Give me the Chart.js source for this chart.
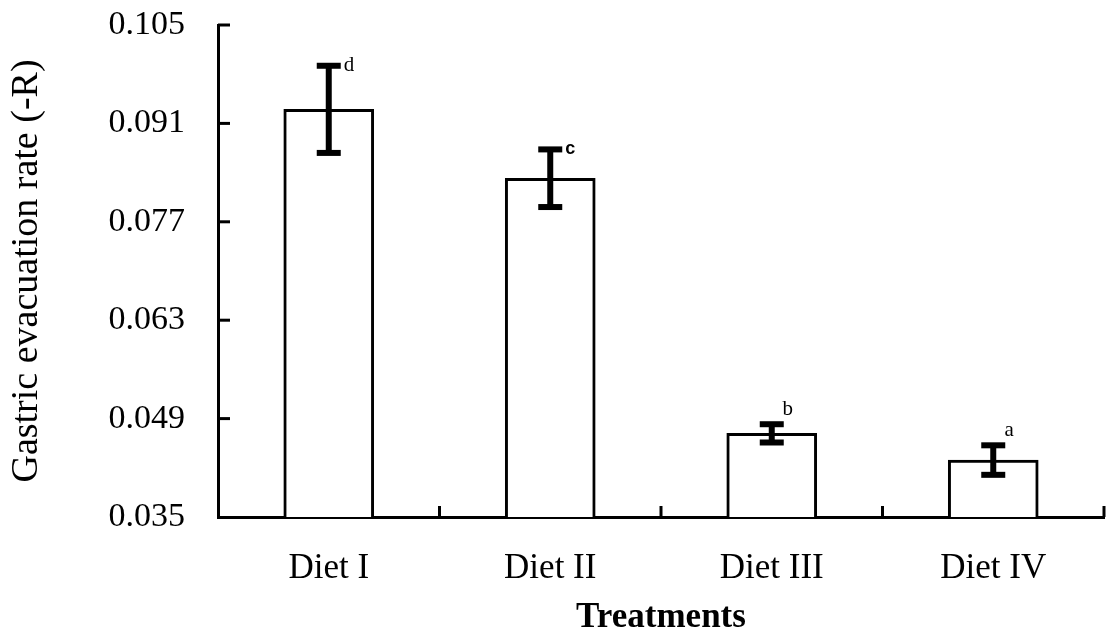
<!DOCTYPE html>
<html>
<head>
<meta charset="utf-8">
<script src="https://cdn.jsdelivr.net/npm/chart.js@4/dist/chart.umd.min.js"></script>
<style>
  html, body { margin: 0; padding: 0; background: #fff; }
  #wrap { width: 1112px; height: 635px; }
</style>
</head>
<body>
<div id="wrap"><canvas id="chart" width="1112" height="635"></canvas></div>
<script>
// Gastric evacuation rate per diet, with standard error and significance group
const categories = ['Diet I', 'Diet II', 'Diet III', 'Diet IV'];
const rates = [0.0930, 0.0832, 0.0469, 0.0431];
const errors = [0.0062, 0.0041, 0.0013, 0.0021];
const groupLetters = ['d', 'c', 'b', 'a'];
const yTicks = [0.035, 0.049, 0.063, 0.077, 0.091, 0.105];

const SERIF = '"Liberation Serif", "Times New Roman", Times, serif';
const SANS = '"Liberation Sans", Arial, sans-serif';

// letter placement: beside the upper cap, or above it
const letterStyles = [
  { mode: 'side', font: '21px ' + SERIF },
  { mode: 'side', font: 'bold 18px ' + SANS },
  { mode: 'above', font: '21px ' + SERIF },
  { mode: 'above', font: '21px ' + SERIF }
];

const decorations = {
  id: 'decorations',
  afterDatasetsDraw(chart) {
    const { ctx, chartArea, scales: { x, y } } = chart;
    ctx.save();
    ctx.strokeStyle = '#000';
    ctx.fillStyle = '#000';
    ctx.lineCap = 'butt';

    // inward ticks on the value axis
    ctx.lineWidth = 3;
    yTicks.slice(1).forEach(v => {
      const py = y.getPixelForValue(v);
      ctx.beginPath();
      ctx.moveTo(chartArea.left, py);
      ctx.lineTo(chartArea.left + 12, py);
      ctx.stroke();
    });

    // upward ticks between categories and at the end of the axis
    for (let i = 0; i < categories.length; i++) {
      const px = i < categories.length - 1
        ? (x.getPixelForValue(i) + x.getPixelForValue(i + 1)) / 2
        : chartArea.right;
      ctx.beginPath();
      ctx.moveTo(px, chartArea.bottom);
      ctx.lineTo(px, chartArea.bottom - 11);
      ctx.stroke();
    }

    // error bars
    const meta = chart.getDatasetMeta(0);
    rates.forEach((v, i) => {
      const cx = meta.data[i].x;
      const top = y.getPixelForValue(v + errors[i]);
      const bot = y.getPixelForValue(v - errors[i]);
      ctx.lineWidth = 6;
      ctx.beginPath();
      ctx.moveTo(cx, top);
      ctx.lineTo(cx, bot);
      ctx.stroke();
      ctx.fillRect(cx - 12, top - 3, 24, 6);
      ctx.fillRect(cx - 12, bot - 3, 24, 6);

      // significance letter
      const st = letterStyles[i];
      ctx.font = st.font;
      ctx.textBaseline = 'middle';
      if (st.mode === 'side') {
        ctx.textAlign = 'left';
        ctx.fillText(groupLetters[i], cx + 15, top);
      } else {
        ctx.textAlign = 'center';
        ctx.fillText(groupLetters[i], cx + 16, top - 15);
      }
    });
    ctx.restore();
  }
};

new Chart(document.getElementById('chart'), {
  type: 'bar',
  data: {
    labels: categories,
    datasets: [{
      data: rates,
      backgroundColor: '#fff',
      borderColor: '#000',
      borderWidth: 3,
      barThickness: 90
    }]
  },
  options: {
    responsive: false,
    animation: false,
    devicePixelRatio: 1,
    layout: { padding: { top: 25, right: 8, bottom: 0, left: 0 } },
    plugins: { legend: { display: false }, tooltip: { enabled: false } },
    scales: {
      x: {
        grid: { display: false, drawTicks: false },
        border: { display: true, color: '#000', width: 3 },
        ticks: { color: '#000', font: { family: SERIF, size: 35 }, padding: 31 },
        title: {
          display: true, text: 'Treatments', color: '#000',
          font: { family: SERIF, size: 35, weight: 'bold' },
          padding: { top: 0, bottom: -4 }
        },
        afterFit(scale) { scale.height = 118; }
      },
      y: {
        min: 0.035,
        max: 0.105,
        afterBuildTicks(scale) { scale.ticks = yTicks.map(v => ({ value: v })); },
        grid: { display: false, drawTicks: false },
        border: { display: true, color: '#000', width: 3 },
        ticks: {
          color: '#000', font: { family: SERIF, size: 34 }, padding: 33,
          callback: v => Number(v).toFixed(3)
        },
        title: {
          display: true, text: 'Gastric evacuation rate (-R)', color: '#000',
          font: { family: SERIF, size: 38 },
          padding: { top: 4, bottom: 0 }
        },
        afterFit(scale) {
          scale.width = 218;
          scale.paddingTop = 0;
          scale.paddingBottom = 0;
        }
      }
    }
  },
  plugins: [decorations]
});
</script>
</body>
</html>
